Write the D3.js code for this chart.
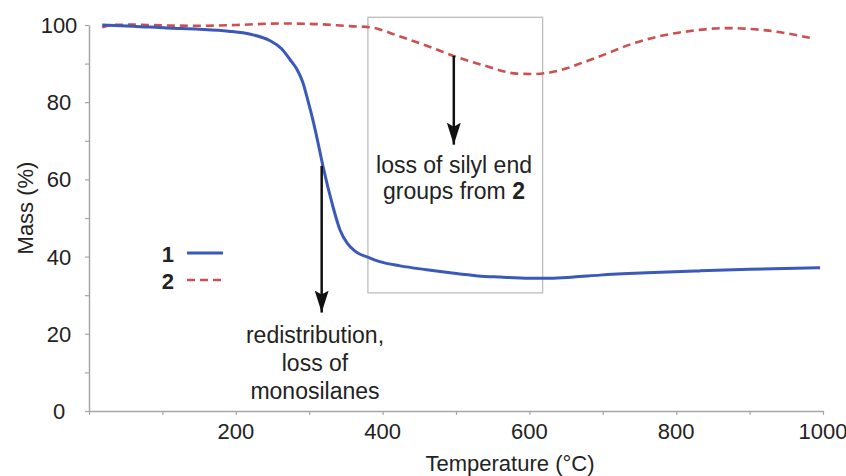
<!DOCTYPE html>
<html>
<head>
<meta charset="utf-8">
<script src="https://cdn.jsdelivr.net/npm/d3@7"></script>
<style>
  body { margin: 0; background: #fff; }
  text { font-family: "Liberation Sans", Arial, sans-serif; fill: #222; }
</style>
</head>
<body>
<div id="chart"></div>
<script>
// Sample 1 (solid blue) - temperature (°C) and mass (%)
const temp1 = [18, 60, 106, 150, 190, 220, 246, 262, 274, 283, 291, 298, 305, 312, 319, 331, 342, 352, 362, 383, 396, 424, 460, 492, 530, 560, 600, 628, 660, 696, 760, 832, 900, 996];
const mass1 = [100, 99.7, 99.2, 98.9, 98.4, 97.6, 96.0, 93.9, 91.0, 88.6, 85.3, 80.6, 75.4, 69.5, 63.2, 53.9, 46.9, 43.4, 41.5, 39.6, 38.7, 37.6, 36.6, 35.8, 35, 34.7, 34.4, 34.4, 34.7, 35.2, 35.8, 36.3, 36.7, 37.1];

// Sample 2 (dashed red)
const temp2 = [18, 30, 60, 100, 150, 200, 260, 300, 356, 383, 424, 469, 501, 537, 583, 605, 628, 651, 673, 696, 741, 775, 810, 869, 923, 982];
const mass2 = [99.4, 100, 100.1, 99.9, 99.8, 100, 100.4, 100.3, 99.7, 99.4, 97.0, 94.0, 91.7, 89.6, 87.4, 87.3, 87.7, 88.8, 90.3, 91.9, 95.2, 97.0, 98.2, 99.2, 98.6, 96.7];

const xTicks = [0, 100, 200, 300, 400, 500, 600, 700, 800, 900, 1000];
const xLabels = [200, 400, 600, 800, 1000];
const yTicks = [0, 10, 20, 30, 40, 50, 60, 70, 80, 90, 100];
const yLabels = [0, 20, 40, 60, 80, 100];

const seriesNames = ["1", "2"];

// annotations (in data units)
const boxTemp = [380, 618];
const boxMass = [30.6, 102];
const arrowTemp = [317, 497];
const arrowFrom = [63.5, 92];
const arrowTo = [25.5, 69];
const noteLines1 = ["redistribution,", "loss of", "monosilanes"];
const noteLines2 = ["loss of silyl end", "groups from "];

const width = 846, height = 476;

const svg = d3.select("#chart")
  .append("svg")
  .attr("width", width)
  .attr("height", height);

const x = d3.scaleLinear().domain([0, 1000]).range([89, 823]);
const y = d3.scaleLinear().domain([0, 100]).range([411, 25]);

const axisColor = "#a6a6a6";

// x axis
const xAxis = svg.append("g")
  .attr("transform", `translate(0,${y(0)})`)
  .call(d3.axisBottom(x).tickValues(xTicks).tickSize(4).tickSizeOuter(0).tickFormat(""));
xAxis.select(".domain").attr("stroke", axisColor).attr("stroke-width", 1.5);
xAxis.selectAll(".tick line").attr("stroke", axisColor).attr("stroke-width", 1.2);

svg.selectAll(".xlab")
  .data(xLabels)
  .enter()
  .append("text")
  .attr("x", (d) => x(d))
  .attr("y", 439)
  .attr("text-anchor", "middle")
  .style("font-size", "22px")
  .text((d) => d);

// y axis
const yAxis = svg.append("g")
  .attr("transform", `translate(${x(0)},0)`)
  .call(d3.axisLeft(y).tickValues(yTicks).tickSize(4).tickSizeOuter(0).tickFormat(""));
yAxis.select(".domain").attr("stroke", axisColor).attr("stroke-width", 1.5);
yAxis.selectAll(".tick line").attr("stroke", axisColor).attr("stroke-width", 1.2);

svg.selectAll(".ylab")
  .data(yLabels)
  .enter()
  .append("text")
  .attr("x", 59)
  .attr("y", (d) => y(d))
  .attr("dy", "0.36em")
  .attr("text-anchor", "middle")
  .style("font-size", "22px")
  .text((d) => d);

// axis titles
svg.append("text")
  .attr("x", 510)
  .attr("y", 471)
  .attr("text-anchor", "middle")
  .style("font-size", "22px")
  .text("Temperature (°C)");

svg.append("text")
  .attr("transform", "rotate(-90)")
  .attr("x", -208)
  .attr("y", 33)
  .attr("text-anchor", "middle")
  .style("font-size", "22px")
  .text("Mass (%)");

// annotation box
svg.append("rect")
  .attr("x", x(boxTemp[0]))
  .attr("y", y(boxMass[1]))
  .attr("width", x(boxTemp[1]) - x(boxTemp[0]))
  .attr("height", y(boxMass[0]) - y(boxMass[1]))
  .attr("fill", "none")
  .attr("stroke", "#bdbdbd")
  .attr("stroke-width", 1.3);

// curves
const line = d3.line()
  .x((d) => x(d[0]))
  .y((d) => y(d[1]))
  .curve(d3.curveMonotoneX);

svg.append("path")
  .datum(temp2.map((t, i) => [t, mass2[i]]))
  .attr("d", line)
  .attr("fill", "none")
  .attr("stroke", "#cd4f4f")
  .attr("stroke-width", 2.6)
  .attr("stroke-dasharray", "8,5");

svg.append("path")
  .datum(temp1.map((t, i) => [t, mass1[i]]))
  .attr("d", line)
  .attr("fill", "none")
  .attr("stroke", "#3b58bb")
  .attr("stroke-width", 3);

// arrows
svg.append("defs")
  .append("marker")
  .attr("id", "head")
  .attr("markerUnits", "userSpaceOnUse")
  .attr("viewBox", "0 0 22 14")
  .attr("refX", 22)
  .attr("refY", 7)
  .attr("markerWidth", 22)
  .attr("markerHeight", 14)
  .attr("orient", "auto")
  .append("path")
  .attr("d", "M0,0 L22,7 L0,14 L4,7 Z")
  .attr("fill", "#111");

arrowTemp.forEach((t, i) => {
  svg.append("line")
    .attr("x1", x(t))
    .attr("x2", x(t))
    .attr("y1", y(arrowFrom[i]))
    .attr("y2", y(arrowTo[i]))
    .attr("stroke", "#111")
    .attr("stroke-width", 2.5)
    .attr("marker-end", "url(#head)");
});

// annotation texts
noteLines1.forEach((s, i) => {
  svg.append("text")
    .attr("x", 315)
    .attr("y", 343 + i * 28)
    .attr("text-anchor", "middle")
    .style("font-size", "23px")
    .text(s);
});

svg.append("text")
  .attr("x", 454)
  .attr("y", 173)
  .attr("text-anchor", "middle")
  .style("font-size", "23px")
  .text(noteLines2[0]);

const t2 = svg.append("text")
  .attr("x", 454)
  .attr("y", 199)
  .attr("text-anchor", "middle")
  .style("font-size", "23px");
t2.append("tspan").text(noteLines2[1]);
t2.append("tspan").style("font-weight", "bold").text("2");

// legend
const legend = svg.append("g");
const legendColors = ["#3b58bb", "#cd4f4f"];
seriesNames.forEach((name, i) => {
  const row = legend.append("g").attr("transform", `translate(0, ${i * 27})`);
  row.append("text")
    .attr("x", 174)
    .attr("y", 262)
    .attr("text-anchor", "end")
    .style("font-size", "22px")
    .style("font-weight", "bold")
    .text(name);
  row.append("line")
    .attr("x1", 187)
    .attr("x2", 223)
    .attr("y1", 253)
    .attr("y2", 253)
    .attr("stroke", legendColors[i])
    .attr("stroke-width", i === 0 ? 3 : 2.6)
    .attr("stroke-dasharray", i === 0 ? null : "8,5");
});
</script>
</body>
</html>
